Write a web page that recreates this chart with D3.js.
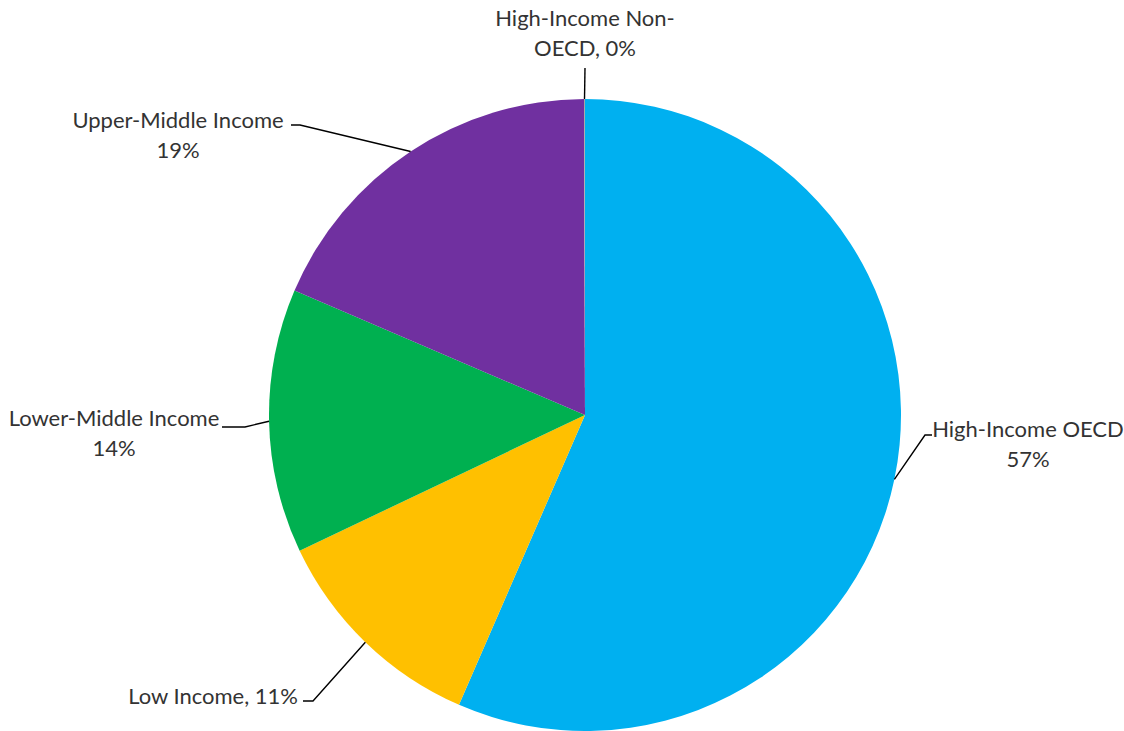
<!DOCTYPE html>
<html>
<head>
<meta charset="utf-8">
<script src="https://cdn.jsdelivr.net/npm/d3@7"></script>
<style>
  html, body { margin: 0; padding: 0; background: #fff; }
  svg { display: block; }
</style>
</head>
<body>
<svg id="chart" width="1124" height="731"></svg>
<script>
// ---- data ----
const categories = ["High-Income OECD", "Low Income", "Lower-Middle Income", "Upper-Middle Income", "High-Income Non-OECD"];
const values = [56.5, 11.4, 13.5, 18.5, 0.05];
const labelTemplates = [
  ["High-Income OECD", "{p}"],
  ["Low Income, {p}"],
  ["Lower-Middle Income", "{p}"],
  ["Upper-Middle Income", "{p}"],
  ["High-Income Non-", "OECD, {p}"]
];
const colors = ["#00B0F0", "#FFC000", "#00B050", "#7030A0", "#A5A5A5"];

// ---- layout (label placement, relative to pie center) ----
const W = 1124, H = 731;
const cx = 585, cy = 415, R = 316;
const labelLayout = [
  { tx: 443, ty: 22,  anchor: "middle", elbow: [340, 20],  end: [347, 20] },
  { tx: -287, ty: 289, anchor: "end",   elbow: [-272, 286], end: [-282, 286] },
  { tx: -471, ty: 11,  anchor: "middle", elbow: [-340, 12], end: [-363, 12] },
  { tx: -407, ty: -287, anchor: "middle", elbow: [-285, -290], end: [-294, -290] },
  { tx: 0, ty: -389, anchor: "middle", elbow: [0, -347], end: [0, -347] }
];
const lineH = 30;

const svg = d3.select("#chart");
svg.append("rect").attr("width", W).attr("height", H).attr("fill", "#fff");

const g = svg.append("g").attr("transform", `translate(${cx},${cy})`);

const pie = d3.pie().sort(null).value(d => d.value);
const data = categories.map((c, i) => ({ name: c, value: values[i], i }));
const arcs = pie(data);

const arc = d3.arc().innerRadius(0).outerRadius(R);
const edgeArc = d3.arc().innerRadius(R).outerRadius(R);

g.selectAll("path.slice")
  .data(arcs)
  .join("path")
  .attr("class", "slice")
  .attr("d", arc)
  .attr("fill", d => colors[d.data.i]);

// leader lines
g.selectAll("polyline.leader")
  .data(arcs)
  .join("polyline")
  .attr("class", "leader")
  .attr("fill", "none")
  .attr("stroke", "#000")
  .attr("stroke-width", 1.4)
  .attr("points", d => {
    const L = labelLayout[d.data.i];
    const p = edgeArc.centroid(d);
    return [p, L.elbow, L.end].map(q => q.join(",")).join(" ");
  });

// labels
const fmt = v => Math.round(v) + "%";
const labels = g.selectAll("text.lbl")
  .data(arcs)
  .join("text")
  .attr("class", "lbl")
  .attr("font-family", "Lato, 'Open Sans', sans-serif")
  .attr("font-size", 22)
  .attr("fill", "#333333")
  .attr("text-anchor", d => labelLayout[d.data.i].anchor)
  .attr("x", d => labelLayout[d.data.i].tx)
  .attr("y", d => labelLayout[d.data.i].ty);

labels.each(function(d) {
  const L = labelLayout[d.data.i];
  const lines = labelTemplates[d.data.i].map(s => s.replace("{p}", fmt(d.data.value)));
  d3.select(this).selectAll("tspan")
    .data(lines)
    .join("tspan")
    .attr("x", L.tx)
    .attr("dy", (s, k) => k === 0 ? 0 : lineH)
    .text(s => s);
});
</script>
</body>
</html>
